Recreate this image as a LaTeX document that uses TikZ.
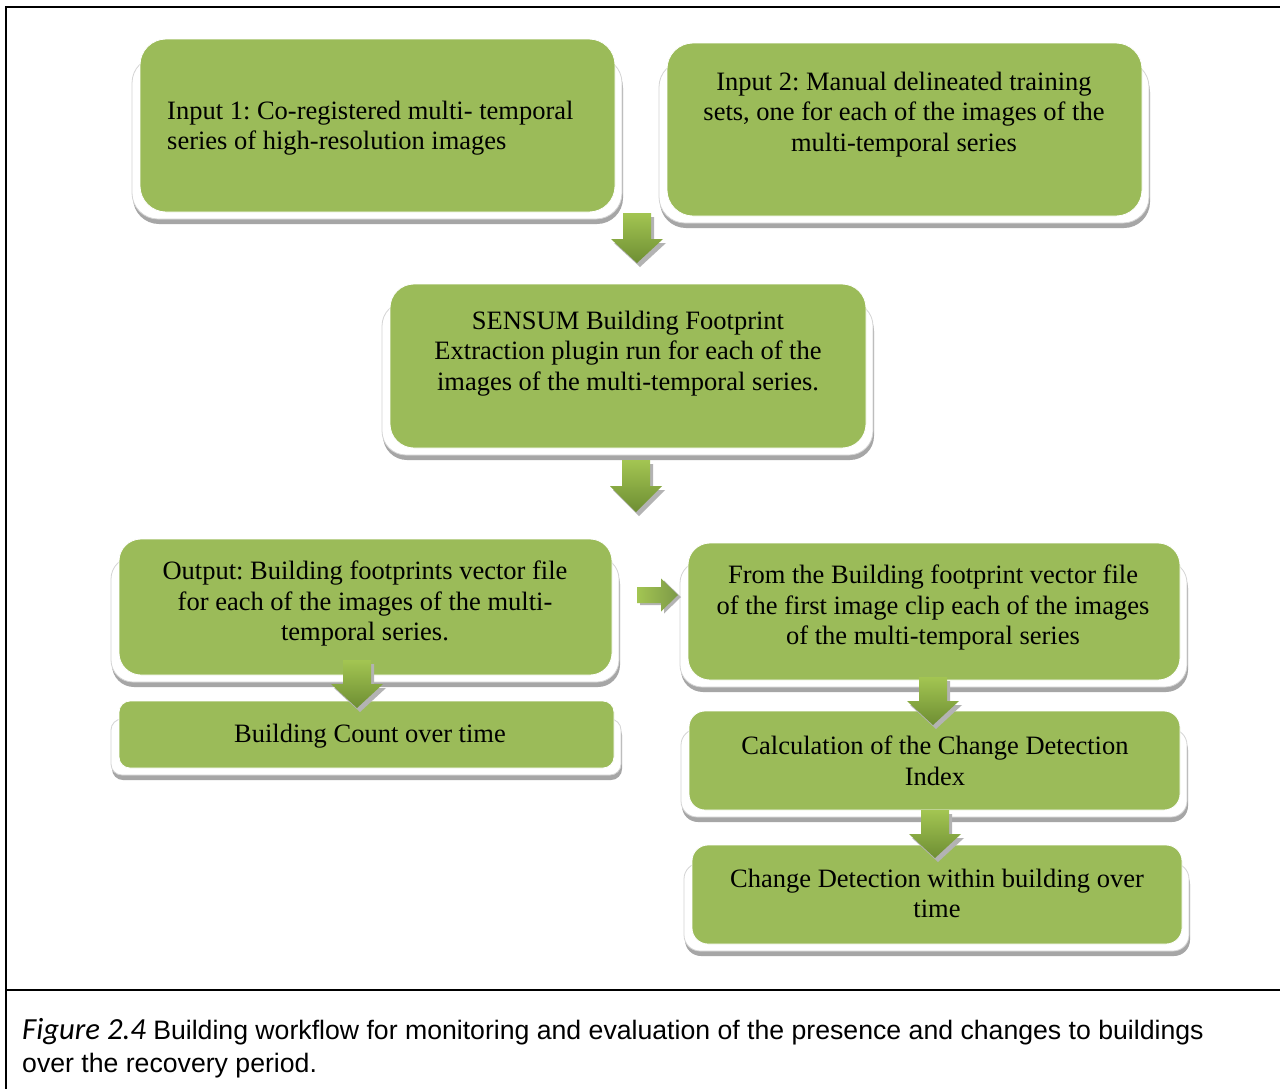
\documentclass[tikz,border=0pt]{standalone}
\usepackage{fontspec}
\setmainfont{Liberation Serif}
\newfontfamily\capsans{Liberation Sans}
\newfontfamily\capfig{Carlito}
\usetikzlibrary{calc}
\frenchspacing

\definecolor{boxgreen}{HTML}{9BBB59}
\definecolor{arrowtop}{HTML}{A3C552}
\definecolor{arrowbot}{HTML}{6E8E33}
\definecolor{framegray}{HTML}{D4D4D4}
\definecolor{shadowgray}{HTML}{A6A6A6}

\tikzset{
  greenbox/.style={fill=boxgreen, draw=white, line width=0.8pt, inner sep=0pt},
  boxtext/.style={font=\fontsize{26.5}{30.5}\selectfont, align=center, inner sep=0pt,
                  anchor=north, execute at begin node=\strut},
  arrowshade/.style={fill=shadowgray!85},
}

% panel: white bevel frame with a grey drop edge, then the green rounded box
% #1 name, #2 x1, #3 y1, #4 x2, #5 y2, #6 corner radius
\newcommand\panel[6]{%
  \pgfmathsetmacro\pw{#4-#2}\pgfmathsetmacro\ph{#5-#3}%
  \fill[shadowgray, rounded corners=#6pt] (#2-7,#3+23) rectangle (#4+8,#5+12);
  \filldraw[fill=white, draw=framegray, line width=0.8pt, rounded corners=#6pt]
     (#2-8,#3+18) rectangle (#4+7,#5+7);
  \node[greenbox, rounded corners=#6pt, minimum width=\pw pt, minimum height=\ph pt]
     (#1) at ({(#2+#4)/2},{(#3+#5)/2}) {};
}

% downward block arrow: #1 centre x, #2 top y, #3 shaft length, #4 head length
\newcommand\downblock[4]{%
  \fill[arrowshade, shift={(3,4)}]
    (#1-14,#2) -- (#1+14,#2) -- (#1+14,#2+#3) -- (#1+26,#2+#3) -- (#1,#2+#3+#4)
    -- (#1-26,#2+#3) -- (#1-14,#2+#3) -- cycle;
  \shade[top color=arrowtop, bottom color=arrowbot]
    (#1-14,#2) -- (#1+14,#2) -- (#1+14,#2+#3) -- (#1+26,#2+#3) -- (#1,#2+#3+#4)
    -- (#1-26,#2+#3) -- (#1-14,#2+#3) -- cycle;
}

% rightward block arrow: #1 left x, #2 centre y
\newcommand\rightblock[2]{%
  \fill[arrowshade, shift={(3,2)}]
    (#1,#2-8) -- (#1+24,#2-8) -- (#1+24,#2-16.5) -- (#1+41,#2) -- (#1+24,#2+16.5)
    -- (#1+24,#2+8) -- (#1,#2+8) -- cycle;
  \shade[left color=arrowtop, right color=arrowbot!90]
    (#1,#2-8) -- (#1+24,#2-8) -- (#1+24,#2-16.5) -- (#1+41,#2) -- (#1+24,#2+16.5)
    -- (#1+24,#2+8) -- (#1,#2+8) -- cycle;
}

\begin{document}
\begin{tikzpicture}[x=1pt, y=-1pt]
\useasboundingbox (0,0) rectangle (1280,1088);
\clip (0,0) rectangle (1280,1088);
\fill[white] (0,0) rectangle (1280,1088);

% figure frame and caption divider
\draw[line width=2pt] (1300,7) -- (6,7) -- (6,1100);
\draw[line width=2pt] (6,990) -- (1300,990);

% workflow panels
\panel{in1}{140}{39}{615}{212}{26}
\panel{in2}{667}{43}{1142}{216}{26}
\panel{sensum}{390}{284}{866}{448}{24}
\panel{out}{119}{539}{612}{675}{22}
\panel{count}{119}{701}{614}{768}{11}
\panel{clip}{688}{543}{1180}{680}{22}
\panel{cdi}{689}{711}{1180}{810}{16}
\panel{change}{692}{845}{1182}{944}{16}

% panel texts
\node[boxtext, align=left, anchor=north west] (in1-t) at (167,122-21.35)
  {Input 1: Co-registered multi- temporal\\series of high-resolution images};
\node[boxtext] (in2-t) at (904,93-21.35)
  {Input 2: Manual delineated training\\sets, one for each of the images of the\\multi-temporal series};
\node[boxtext] (sensum-t) at (628,332-21.35)
  {SENSUM Building Footprint\\Extraction plugin run for each of the\\images of the multi-temporal series.};
\node[boxtext] (out-t) at (365,582-21.35)
  {Output: Building footprints vector file\\for each of the images of the multi-\\temporal series.};
\node[boxtext] (count-t) at (370,742-21.35) {Building Count over time};
\node[boxtext] (clip-t) at (933,586-21.35)
  {From the Building footprint vector file\\of the first image clip each of the images\\of the multi-temporal series};
\node[boxtext] (cdi-t) at (935,757-21.35)
  {Calculation of the Change Detection\\Index};
\node[boxtext] (change-t) at (937,890-21.35)
  {Change Detection within building over\\time};

% block arrows between the panels
\downblock{637}{213}{26}{24}
\downblock{636}{460}{26}{26}
\downblock{357}{660}{24}{24}
\downblock{933}{677}{24}{24}
\downblock{935}{810}{24}{24}
\rightblock{637}{595}

% caption
\node[anchor=north west, inner sep=0pt, align=left,
      font=\capsans\fontsize{26.65}{33}\selectfont,
      execute at begin node=\strut] (caption) at (22,1041-23.1)
  {{\capfig\itshape\fontsize{30.7}{33}\selectfont Figure 2.4} Building workflow for monitoring and evaluation of the presence and changes to buildings\\over the recovery period.};
\end{tikzpicture}
\end{document}
